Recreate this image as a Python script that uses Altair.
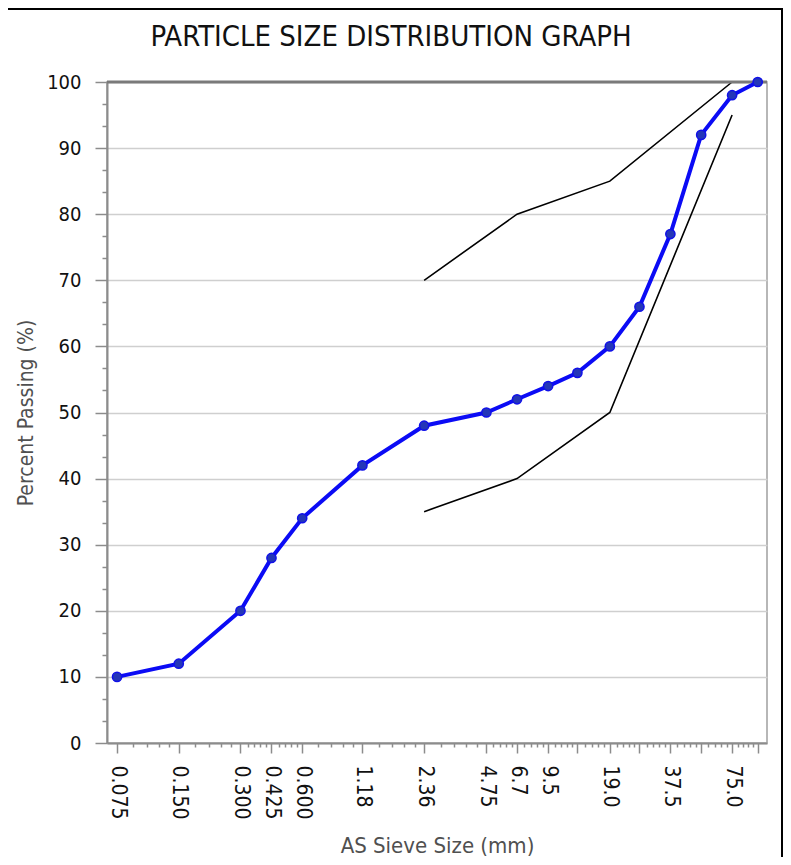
import altair as alt
import pandas as pd

# ---- data ----
sieve = [0.075, 0.150, 0.300, 0.425, 0.600, 1.18, 2.36, 4.75, 6.7, 9.5,
         13.2, 19.0, 26.5, 37.5, 53.0, 75.0, 100.0]
passing = [10, 12, 20, 28, 34, 42, 48, 50, 52, 54, 56, 60, 66, 77, 92, 98, 100]

env_sieve = [2.36, 6.7, 19.0, 75.0]
upper_limit = [70, 80, 85, 100]
lower_limit = [35, 40, 50, 95]

label_values = [0.075, 0.150, 0.300, 0.425, 0.600, 1.18, 2.36, 4.75, 6.7, 9.5,
                19.0, 37.5, 75.0]
label_texts = ["0.075", "0.150", "0.300", "0.425", "0.600", "1.18", "2.36",
               "4.75", "6.7", "9.5", "19.0", "37.5", "75.0"]
y_major = [0, 10, 20, 30, 40, 50, 60, 70, 80, 90, 100]
y_top = [100]

# minor ticks: each major interval split into five
x_minor = []
for a, b in zip(sieve[:-1], sieve[1:]):
    for k in range(1, 5):
        x_minor.append(round(a + k * (b - a) / 5, 6))
y_minor = []
for a in y_major[:-1]:
    y_minor += [a + 10 / 3, a + 20 / 3]

FONT = "DejaVu Sans Condensed, DejaVu Sans, sans-serif"
AXIS_GRAY = "#8c8c8c"

W, H = 660, 661
PAD_L, PAD_T, PAD_R, PAD_B = 99, 74, 16, 114
x_scale = alt.Scale(type="log", domain=[0.067, 111.0], nice=False)
y_scale = alt.Scale(domain=[0, 100], nice=False)

vals_js = "[" + ",".join(repr(v) for v in label_values) + "]"
txt_js = "[" + ",".join("'" + t + "'" for t in label_texts) + "]"
label_expr = (f"indexof({vals_js}, datum.value) < 0 ? '' : "
              f"{txt_js}[indexof({vals_js}, datum.value)]")

x_axis = alt.Axis(
    orient="bottom", values=sieve, labelExpr=label_expr, labelAngle=90,
    labelAlign="left", labelBaseline="middle",
    labelFont=FONT, labelFontSize=21, labelColor="#111111", labelPadding=12,
    labelOverlap=False, labelFlush=False, labelBound=False,
    tickSize=10, tickColor=AXIS_GRAY, tickWidth=1.5,
    domainColor=AXIS_GRAY, domainWidth=2, grid=False,
    title="AS Sieve Size (mm)", titleFont=FONT, titleFontSize=22,
    titleFontWeight="normal", titleColor="#505050",
    titleY=102, titleBaseline="middle",
)
y_axis = alt.Axis(
    orient="left", values=y_major, labelFont=FONT, labelFontSize=20,
    labelColor="#111111", labelPadding=14, labelFlush=False,
    tickSize=12, tickColor=AXIS_GRAY, tickWidth=1.5,
    domainColor=AXIS_GRAY, domainWidth=2,
    grid=True, gridColor="#cfcfcf", gridWidth=1.5,
    title="Percent Passing (%)", titleFont=FONT, titleFontSize=21,
    titleFontWeight="normal", titleColor="#505050",
    titleX=-81, titleY=H / 2, titleAlign="center", titleBaseline="middle",
    titleAngle=270,
)
x_minor_axis = alt.Axis(orient="bottom", values=x_minor, labels=False,
                        domain=False, grid=False, title=None, tickSize=4,
                        tickColor=AXIS_GRAY, tickWidth=1.5)
y_minor_axis = alt.Axis(orient="left", values=y_minor, labels=False,
                        domain=False, grid=False, title=None, tickSize=5,
                        tickColor=AXIS_GRAY, tickWidth=1.5)

psd = pd.DataFrame({"sieve": sieve, "passing": passing})
env = pd.DataFrame({"sieve": env_sieve, "upper": upper_limit, "lower": lower_limit})

main_line = alt.Chart(psd).mark_line(color="#0b0bf5", strokeWidth=4).encode(
    x=alt.X("sieve:Q", scale=x_scale, axis=x_axis),
    y=alt.Y("passing:Q", scale=y_scale, axis=y_axis),
)
pts = alt.Chart(psd).mark_point(
    filled=True, size=85, fill="#2436b8", stroke="#1010e8", strokeWidth=1.5,
    opacity=1,
).encode(
    x=alt.X("sieve:Q", scale=x_scale, axis=None),
    y=alt.Y("passing:Q", scale=y_scale, axis=None),
)
upper = alt.Chart(env).mark_line(color="black", strokeWidth=1.6).encode(
    x=alt.X("sieve:Q", scale=x_scale, axis=x_minor_axis),
    y=alt.Y("upper:Q", scale=y_scale, axis=y_minor_axis),
)
lower = alt.Chart(env).mark_line(color="black", strokeWidth=1.6).encode(
    x=alt.X("sieve:Q", scale=x_scale, axis=None),
    y=alt.Y("lower:Q", scale=y_scale, axis=None),
)
top_border = alt.Chart(pd.DataFrame({"y": y_top})).mark_rule(
    color="#7a7a7a", strokeWidth=3
).encode(y=alt.Y("y:Q", scale=y_scale, axis=None))

frame_df = pd.DataFrame({"a": [0]})
frame_top = alt.Chart(frame_df).mark_rule(color="black", strokeWidth=2).encode(
    x=alt.value(-PAD_L), x2=alt.value(W + PAD_R), y=alt.value(-PAD_T + 1))
frame_right = alt.Chart(frame_df).mark_rule(color="black", strokeWidth=2).encode(
    x=alt.value(W + PAD_R - 1), y=alt.value(-PAD_T), y2=alt.value(H + PAD_B))

chart = alt.layer(
    upper, lower, top_border, main_line, pts, frame_top, frame_right
).resolve_axis(x="independent", y="independent").properties(
    width=W, height=H,
    padding={"left": PAD_L, "top": PAD_T, "right": PAD_R, "bottom": PAD_B},
    autosize=alt.AutoSizeParams(type="none"),
    title=alt.Title("PARTICLE SIZE DISTRIBUTION GRAPH", font=FONT, fontSize=29,
                    fontWeight="normal", color="#111111", anchor="middle",
                    frame="group", baseline="alphabetic", offset=-68, dx=-46),
).configure_view(stroke="#a0a0a0", strokeWidth=1.5)

chart.save("out.html", embed_options={"renderer": "svg", "actions": False})
